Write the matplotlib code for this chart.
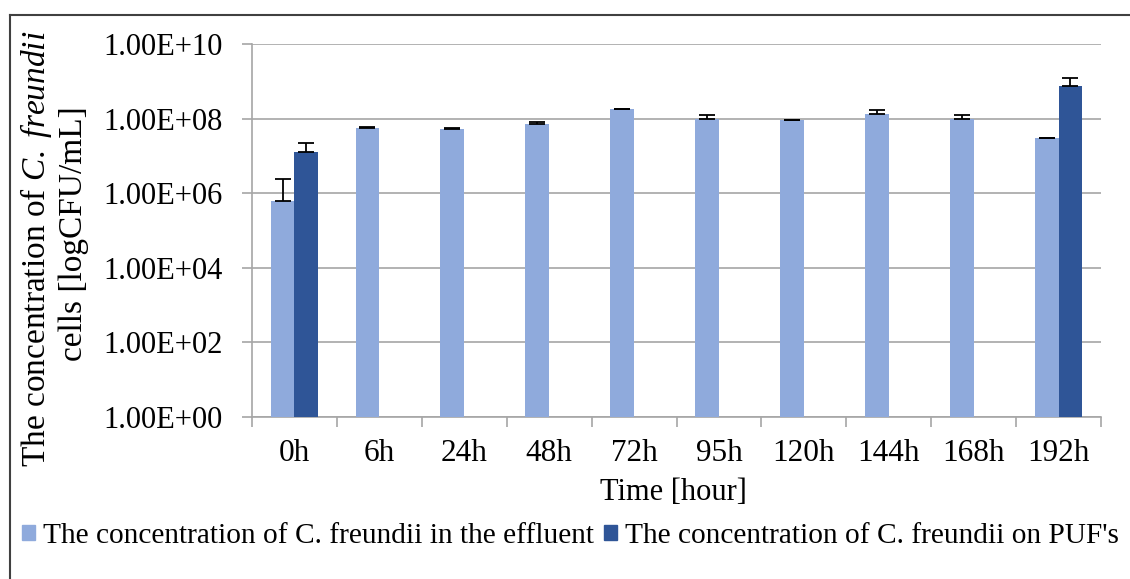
import numpy as np
import matplotlib
matplotlib.use("Agg")
import matplotlib.pyplot as plt
from matplotlib.patches import Rectangle
from matplotlib.lines import Line2D
from matplotlib.ticker import FixedLocator, NullFormatter

plt.rcParams['font.family'] = ['Liberation Serif', 'DejaVu Serif']
plt.rcParams['mathtext.fontset'] = 'custom'
plt.rcParams['mathtext.rm'] = 'Liberation Serif'
plt.rcParams['mathtext.it'] = 'Liberation Serif:italic'

# ---- data ----
categories = ["0h", "6h", "24h", "48h", "72h", "95h", "120h", "144h", "168h", "192h"]
effluent = [6.3e5, 5.6e7, 5.4e7, 7.0e7, 1.78e8, 9.8e7, 9.0e7, 1.36e8, 9.8e7, 2.95e7]
effluent_upper = [2.35e6, 5.8e7, 5.6e7, 7.9e7, 1.84e8, 1.23e8, 9.3e7, 1.70e8, 1.23e8, 3.05e7]
puf = [1.3e7, np.nan, np.nan, np.nan, np.nan, np.nan, np.nan, np.nan, np.nan, 7.35e8]
puf_upper = [2.2e7, np.nan, np.nan, np.nan, np.nan, np.nan, np.nan, np.nan, np.nan, 1.26e9]
ytick_values = [1e0, 1e2, 1e4, 1e6, 1e8, 1e10]
ytick_labels = ["1.00E+00", "1.00E+02", "1.00E+04", "1.00E+06", "1.00E+08", "1.00E+10"]
series_names = ["The concentration of C. freundii in the effluent",
                "The concentration of C. freundii on PUF's"]

c_light = "#8FAADC"
c_dark = "#2F5597"
grid_c = "#A6A6A6"

W, H = 1130, 579
fig = plt.figure(figsize=(W / 100, H / 100), dpi=100)
ax = fig.add_axes([252 / W, 1 - 417 / H, (1101 - 252) / W, (417 - 44) / H])

x = np.arange(len(categories))
bw = 0.28
eff = np.array(effluent)
effu = np.array(effluent_upper)
pu = np.array(puf)
puu = np.array(puf_upper)
m = ~np.isnan(pu)

ax.set_yscale('log')
ax.bar(x - bw / 2, eff - 1, width=bw, bottom=1, color=c_light, zorder=3)
ax.bar(x[m] + bw / 2, pu[m] - 1, width=bw, bottom=1, color=c_dark, zorder=3)
ax.errorbar(x - bw / 2, eff, yerr=[np.zeros_like(eff), effu - eff], fmt='none',
            ecolor='black', elinewidth=1.3, capsize=6, capthick=1.3, zorder=4)
ax.errorbar(x[m] + bw / 2, pu[m], yerr=[np.zeros(m.sum()), puu[m] - pu[m]], fmt='none',
            ecolor='black', elinewidth=1.3, capsize=6, capthick=1.3, zorder=4)

ax.set_ylim(1, 1e10)
ax.set_xlim(-0.5, len(categories) - 0.5)

ax.yaxis.set_major_locator(FixedLocator(ytick_values))
ax.set_yticklabels(ytick_labels)
ax.yaxis.set_minor_locator(FixedLocator([]))
ax.yaxis.set_minor_formatter(NullFormatter())
ax.grid(axis='y', color=grid_c, linewidth=1.2, zorder=0)
ax.set_axisbelow(True)

ax.set_xticks(x)
ax.set_xticklabels(categories)
ax.set_xticks(np.arange(len(categories) + 1) - 0.5, minor=True)
ax.tick_params(axis='x', which='major', length=0, pad=16, labelsize=22.5)
ax.tick_params(axis='x', which='minor', length=7, width=1.2, color=grid_c, direction='out')
ax.tick_params(axis='y', which='major', length=7, width=1.2, color=grid_c, pad=14, labelsize=22)

for s in ['top', 'right']:
    ax.spines[s].set_visible(False)
for s in ['left', 'bottom']:
    ax.spines[s].set_color(grid_c)
    ax.spines[s].set_linewidth(1.2)

fig.text(673 / W, 1 - 493 / H, "Time [hour]", ha='center', va='center', fontsize=22)
fig.text(36 / W, 1 - 249 / H, r"The concentration of $\mathit{C.\ freundii}$",
         rotation=90, ha='center', va='center', fontsize=24)
fig.text(74 / W, 1 - 234 / H, "cells [logCFU/mL]",
         rotation=90, ha='center', va='center', fontsize=24)

handles = [Rectangle((0, 0), 1, 1, color=c_light), Rectangle((0, 0), 1, 1, color=c_dark)]
fig.legend(handles, series_names, loc='center left', bbox_to_anchor=(22 / W, 1 - 536 / H),
           ncol=2, frameon=False, fontsize=21.2, handlelength=0.45, handleheight=0.45,
           handletextpad=0.25, columnspacing=0.35, borderpad=0, borderaxespad=0)

# outer frame (left and top edges visible)
fig.add_artist(Line2D([10 / W, 10 / W], [0, 1 - 15 / H], transform=fig.transFigure,
                      color="#404040", linewidth=1.5))
fig.add_artist(Line2D([10 / W, 1], [1 - 15 / H, 1 - 15 / H], transform=fig.transFigure,
                      color="#404040", linewidth=1.5))

fig.savefig("out.png", dpi=100)
